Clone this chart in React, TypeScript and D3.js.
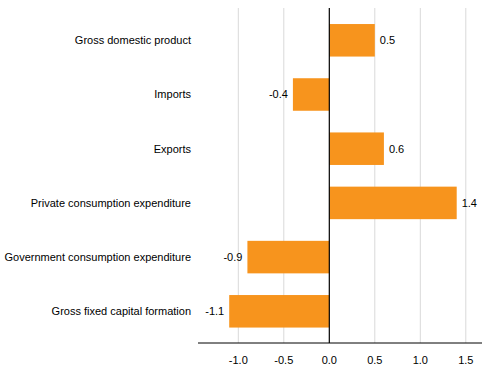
import React from "react";
import * as d3 from "d3";

const categories = [
  "Gross domestic product",
  "Imports",
  "Exports",
  "Private consumption expenditure",
  "Government consumption expenditure",
  "Gross fixed capital formation",
];
const values = [0.5, -0.4, 0.6, 1.4, -0.9, -1.1];
const ticks = [-1.0, -0.5, 0.0, 0.5, 1.0, 1.5];

const W = 491;
const H = 378;

export default function App() {
  const x = d3.scaleLinear().domain([-1.443, 1.678]).range([198, 482]);
  const y = d3
    .scaleBand<string>()
    .domain(categories)
    .range([13.2, 338.4])
    .paddingInner(0.4)
    .paddingOuter(0.2);
  const axisY = 343;
  const font = "'Liberation Sans', Arial, sans-serif";
  return (
    <svg
      width={W}
      height={H}
      style={{ position: "absolute", left: 0, top: 0 }}
      fontFamily={font}
      fontSize={11}
    >
      <rect width={W} height={H} fill="#fff" />
      {ticks
        .filter((t) => t !== 0)
        .map((t) => (
          <line
            key={t}
            x1={x(t)}
            x2={x(t)}
            y1={8}
            y2={axisY}
            stroke="#d9d9d9"
            strokeWidth={1}
          />
        ))}
      {categories.map((c, i) => {
        const v = values[i];
        const x0 = x(Math.min(0, v));
        const x1 = x(Math.max(0, v));
        const yc = (y(c) as number) + y.bandwidth() / 2;
        return (
          <g key={c}>
            <rect
              x={x0}
              y={y(c)}
              width={x1 - x0}
              height={y.bandwidth()}
              fill="#F7941D"
            />
            <text
              x={v >= 0 ? x1 + 5 : x0 - 5}
              y={yc}
              dy="0.35em"
              textAnchor={v >= 0 ? "start" : "end"}
              fill="#000"
            >
              {v.toFixed(1)}
            </text>
            <text x={191} y={yc} dy="0.35em" textAnchor="end" fill="#000">
              {c}
            </text>
          </g>
        );
      })}
      <line x1={x(0)} x2={x(0)} y1={8} y2={axisY} stroke="#000" strokeWidth={1.2} />
      <line x1={198} x2={482} y1={axisY} y2={axisY} stroke="#000" strokeWidth={1} />
      {ticks.map((t) => (
        <text
          key={t}
          x={x(t)}
          y={360}
          dy="0.35em"
          textAnchor="middle"
          fill="#000"
        >
          {t.toFixed(1)}
        </text>
      ))}
    </svg>
  );
}
